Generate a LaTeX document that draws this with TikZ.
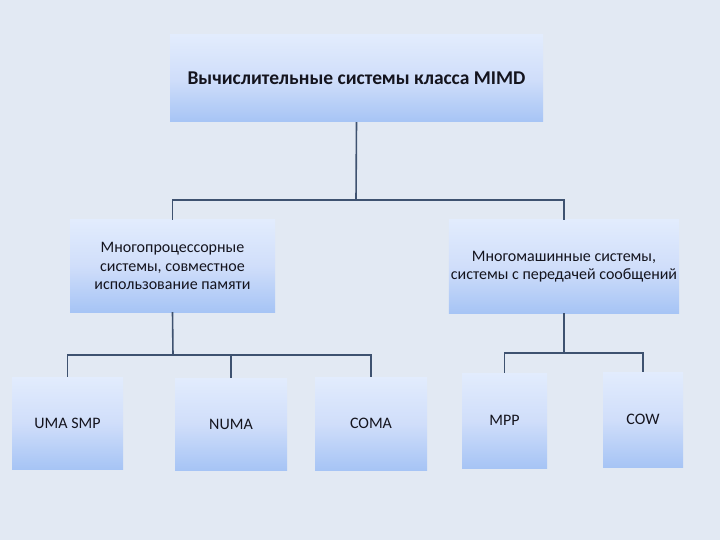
\documentclass[tikz,border=0pt]{standalone}
\usepackage{fontspec}
\setmainfont{Carlito}
\definecolor{bgc}{RGB}{226,233,243}
\definecolor{boxtop}{RGB}{226,236,253}
\definecolor{boxmid}{RGB}{208,222,250}
\definecolor{boxbot}{RGB}{166,196,245}
\definecolor{linec}{RGB}{62,82,112}
\definecolor{txt}{RGB}{20,20,30}
\tikzset{
  box/.style={rectangle, inner sep=2pt, align=center, text=txt,
    top color=boxtop, bottom color=boxbot, middle color=boxmid},
  conn/.style={draw=linec, line width=1.6pt},
  lbl/.style={font=\fontsize{16}{18.5}\selectfont},
}
\begin{document}
\begin{tikzpicture}[x=1pt,y=-1pt]
\fill[bgc] (0,0) rectangle (720,540);
\useasboundingbox (0,0) rectangle (720,540);
\node[box, minimum width=373pt, minimum height=87pt, font=\fontsize{19.5}{22}\selectfont\bfseries] (top) at (356.5,78.5) {Вычислительные системы класса MIMD};
\node[box, lbl, minimum width=205pt, minimum height=92pt] (mL) at (172.5,266) {Многопроцессорные\\системы, совместное\\использование памяти};
\node[box, lbl, minimum width=228pt, minimum height=93pt] (mR) at (564,266.5) {Многомашинные системы,\\системы с передачей сообщений};
\node[box, lbl, minimum width=111pt, minimum height=92pt] (uma) at (67.5,423) {UMA SMP};
\node[box, lbl, minimum width=112pt, minimum height=92pt] (numa) at (231,424) {NUMA};
\node[box, lbl, minimum width=112pt, minimum height=93pt] (coma) at (371,423.5) {COMA};
\node[box, lbl, minimum width=85pt, minimum height=95pt] (mpp) at (504.5,420.5) {MPP};
\node[box, lbl, minimum width=80pt, minimum height=95pt] (cow) at (643,419.5) {COW};
\coordinate (j1) at (356,200);
\coordinate (j2) at (173,355);
\coordinate (j3) at (564,353);
\draw[conn] (top.south) -- (j1);
\draw[conn] (j1) -| (mL.north);
\draw[conn] (j1) -| (mR.north);
\draw[conn] (mL.south) -- (j2);
\draw[conn] (j2) -| (uma.north);
\draw[conn] (j2) -| (numa.north);
\draw[conn] (j2) -| (coma.north);
\draw[conn] (mR.south) -- (j3);
\draw[conn] (j3) -| (mpp.north);
\draw[conn] (j3) -| (cow.north);
\end{tikzpicture}
\end{document}
